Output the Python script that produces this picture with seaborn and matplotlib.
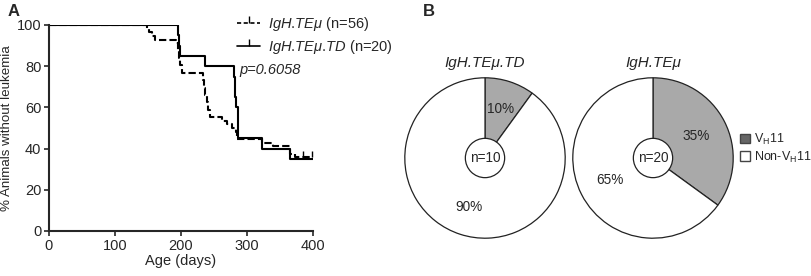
import matplotlib.pyplot as plt
import matplotlib as mpl
from matplotlib.lines import Line2D
from matplotlib.patches import Patch, Circle
import seaborn as sns
import pandas as pd

# Kaplan-Meier steps
te_days = [0, 148, 152, 156, 160, 193, 195, 197, 199, 201, 233, 235, 237, 239, 241, 244,
           262, 270, 278, 283, 285, 323, 340, 365, 372, 400]
te_surv = [100, 98.2, 96.4, 94.6, 92.9, 91.1, 87.5, 83.9, 80.4, 76.8, 73.2, 69.6, 66.1, 62.5, 58.9, 55.4,
           53.6, 51.8, 50.0, 48.2, 44.6, 42.9, 41.1, 37.5, 35.7, 35.7]
te_cens_days = [385, 398]
te_cens_surv = [35.7, 35.7]

td_days = [0, 195, 197, 199, 237, 280, 282, 284, 286, 323, 365, 400]
td_surv = [100, 95, 90, 85, 80, 75, 65, 60, 45, 40, 35, 35]

# pie data
pie_titles = ["IgH.TEμ.TD", "IgH.TEμ"]
pie_n = [10, 20]
vh11_pct = [10, 35]

sns.set_style("ticks")
plt.rcParams["font.family"] = ["Liberation Sans", "DejaVu Sans"]
plt.rcParams["mathtext.fontset"] = "custom"
plt.rcParams["mathtext.rm"] = "Liberation Sans"
plt.rcParams["mathtext.it"] = "Liberation Sans:italic"

fig = plt.figure(figsize=(8.12, 2.76), dpi=100)

# ---- panel A
ax = fig.add_axes([49/812, 1-231/276, 264/812, 206/276])
te = pd.DataFrame({"day": te_days, "surv": te_surv})
td = pd.DataFrame({"day": td_days, "surv": td_surv})
sns.lineplot(te, x="day", y="surv", ax=ax, color="k", lw=1.5, linestyle=(0, (3.5, 1.5)),
             drawstyle="steps-post", estimator=None)
sns.lineplot(td, x="day", y="surv", ax=ax, color="k", lw=1.5, drawstyle="steps-post", estimator=None)
ax.plot(te_cens_days, te_cens_surv, ls="none", marker=2, ms=4, mew=1, color="k")

ax.set_xlim(0, 400)
ax.set_ylim(0, 100)
ax.set_xticks([0, 100, 200, 300, 400])
ax.set_yticks([0, 20, 40, 60, 80, 100])
ax.tick_params(labelsize=10.5, width=1.2, length=3.5, pad=2)
for s in ["left", "bottom"]:
    ax.spines[s].set_linewidth(1.5)
sns.despine(ax=ax)
ax.set_xlabel("Age (days)", fontsize=10.5, labelpad=1)
ax.set_ylabel("% Animals without leukemia", fontsize=9.6, labelpad=3)

handles = [Line2D([], [], color="k", lw=1.2, ls=(0, (2.5, 1.5)), marker=2, ms=5, markevery=[1]),
           Line2D([], [], color="k", lw=1.2, marker=2, ms=5, markevery=[1])]
leg = ax.legend(handles, [r"$\mathit{IgH}$.$\mathit{TE\mu}$ (n=56)",
                          r"$\mathit{IgH}$.$\mathit{TE\mu}$.$\mathit{TD}$ (n=20)"],
                loc="upper left", bbox_to_anchor=(0.69, 1.075), frameon=False, fontsize=10.5,
                handlelength=1.6, handletextpad=0.5, labelspacing=0.35, borderaxespad=0)
ax.text(0.72, 0.78, "p=0.6058", transform=ax.transAxes, fontsize=10.5, style="italic", va="center")

fig.text(8/812, 1-12/276, "A", fontsize=12, fontweight="bold", va="center")
fig.text(423/812, 1-12/276, "B", fontsize=12, fontweight="bold", va="center")

# ---- panel B
r = 81
centers = [485, 653]
for i, cx in enumerate(centers):
    pax = fig.add_axes([(cx - r)/812, 1-(158 + r)/276, 2*r/812, 2*r/276])
    vals = [vh11_pct[i], 100 - vh11_pct[i]]
    wedges, texts, autotexts = pax.pie(
        vals, colors=["#a9a9a9", "white"], startangle=90, counterclock=False,
        autopct="%d%%", pctdistance=0.64 if i == 0 else 0.6,
        wedgeprops=dict(edgecolor="#222222", linewidth=0.9), textprops=dict(fontsize=9.8))
    pax.add_patch(Circle((0, 0), 0.245, facecolor="white", edgecolor="#222222", lw=0.9, zorder=5))
    pax.text(0, 0, f"n={pie_n[i]}", ha="center", va="center", fontsize=9.8, zorder=6)
    pax.set_xlim(-1.01, 1.01)
    pax.set_ylim(-1.01, 1.01)
    pax.set_title(pie_titles[i], fontsize=11, style="italic", pad=7)

fig.legend([Patch(facecolor="#666666", edgecolor="#444444"), Patch(facecolor="white", edgecolor="#444444")],
           [r"V$_\mathrm{H}$11", r"Non-V$_\mathrm{H}$11"], loc="upper left",
           bbox_to_anchor=(735/812, 1-127/276), frameon=False, fontsize=9,
           handlelength=0.8, handleheight=0.8, handletextpad=0.35, labelspacing=0.2, borderaxespad=0)

fig.savefig("out.png", dpi=100)
